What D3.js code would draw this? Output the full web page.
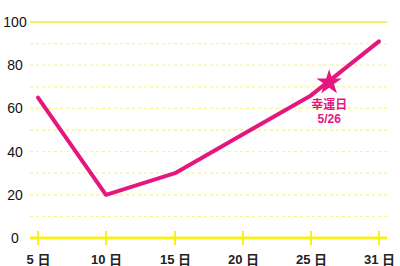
<!DOCTYPE html>
<html>
<head>
<meta charset="utf-8">
<script src="https://cdn.jsdelivr.net/npm/d3@7"></script>
<style>
  body { margin: 0; background: #fff; }
  svg text { font-family: "Liberation Sans", "Noto Sans CJK JP", sans-serif; }
</style>
</head>
<body>
<div id="chart"></div>
<script>
// data
var tickDays = [5, 10, 15, 20, 25, 31];
var yTicks = [0, 20, 40, 60, 80, 100];
var gridValues = [10, 20, 30, 40, 50, 60, 70, 80, 90];
var days = [5, 10, 15, 20, 25, 31];
var values = [65, 20, 30, 48, 66, 91];
var starDay = 26.6;   // where the star sits along the x axis
var luckyLabel = ["幸運日", "5/26"];

var svgWidth = 400, svgHeight = 266;
var pink = "#e5177e";

var svg = d3.select("#chart").append("svg")
  .attr("width", svgWidth).attr("height", svgHeight);

// ticks are evenly spaced, so map each tick day to its own slot
var xScale = d3.scaleLinear()
  .domain(tickDays)
  .range([38, 106, 175, 243, 311, 379]);

var yScale = d3.scaleLinear()
  .domain([0, 100])
  .range([238, 22]);

// dashed grid
svg.selectAll("line.grid")
  .data(gridValues)
  .enter().append("line")
  .attr("class", "grid")
  .attr("x1", 30).attr("x2", 387)
  .attr("y1", d => yScale(d)).attr("y2", d => yScale(d))
  .attr("stroke", "#f7f39a")
  .attr("stroke-width", 1.3)
  .attr("stroke-dasharray", "3,3");

// top line at 100
svg.append("line")
  .attr("x1", 30).attr("x2", 387)
  .attr("y1", yScale(100)).attr("y2", yScale(100))
  .attr("stroke", "#f3ef6a")
  .attr("stroke-width", 2);

// y labels
svg.selectAll("text.ylab")
  .data(yTicks)
  .enter().append("text")
  .attr("class", "ylab")
  .attr("x", 15)
  .attr("y", d => yScale(d) + 5)
  .attr("text-anchor", "middle")
  .attr("font-size", 14)
  .attr("fill", "#111")
  .text(d => d);

// x axis
var xAxis = d3.axisBottom(xScale)
  .tickValues(tickDays)
  .tickSize(0)
  .tickFormat(d => d + " 日");

var gx = svg.append("g")
  .attr("transform", `translate(0, ${yScale(0)})`)
  .call(xAxis);
gx.select(".domain").remove();
gx.selectAll("text")
  .attr("y", 17)
  .attr("font-size", 13)
  .attr("font-weight", "bold")
  .attr("fill", "#222");

svg.append("line")
  .attr("x1", 30).attr("x2", 387)
  .attr("y1", yScale(0)).attr("y2", yScale(0))
  .attr("stroke", "#f5f01e")
  .attr("stroke-width", 3);

svg.selectAll("line.tick")
  .data(tickDays)
  .enter().append("line")
  .attr("class", "tick")
  .attr("x1", d => xScale(d)).attr("x2", d => xScale(d))
  .attr("y1", yScale(0) - 7).attr("y2", yScale(0) + 7)
  .attr("stroke", "#f5f01e")
  .attr("stroke-width", 2);

// the line
var line = d3.line()
  .x(d => xScale(d))
  .y((d, i) => yScale(values[i]));

svg.append("path")
  .datum(days)
  .attr("d", line)
  .attr("fill", "none")
  .attr("stroke", pink)
  .attr("stroke-width", 4)
  .attr("stroke-linecap", "round")
  .attr("stroke-linejoin", "round");

// star sits on the line
var valueAt = d3.scaleLinear().domain(days).range(values);
var sx = xScale(starDay), sy = yScale(valueAt(starDay));
svg.append("path")
  .attr("d", d3.symbol().type(d3.symbolStar).size(200)())
  .attr("transform", `translate(${sx},${sy + 1.5})`)
  .attr("fill", pink);

svg.selectAll("text.lucky")
  .data(luckyLabel)
  .enter().append("text")
  .attr("class", "lucky")
  .attr("x", sx)
  .attr("y", (d, i) => sy + 28 + i * 14)
  .attr("text-anchor", "middle")
  .attr("font-size", 12)
  .attr("font-weight", "bold")
  .attr("fill", pink)
  .text(d => d);
</script>
</body>
</html>
